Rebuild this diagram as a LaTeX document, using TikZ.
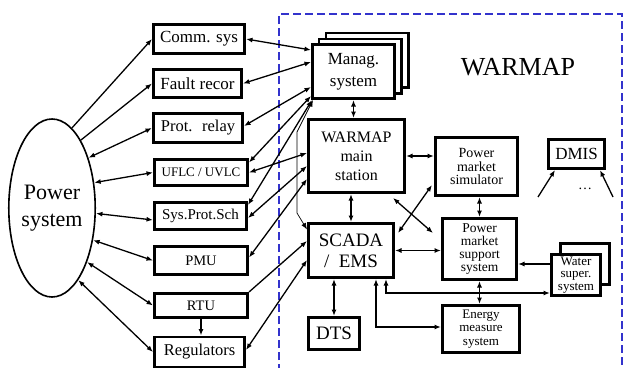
\documentclass[tikz,border=0pt]{standalone}
\usepackage{fontspec}
\setmainfont{Liberation Serif}
\usepackage{tikz}
\usetikzlibrary{calc, positioning, shapes.geometric, arrows.meta}
\definecolor{warblue}{RGB}{51,51,204}
\newcommand{\sz}[2]{\fontsize{#1}{#2}\selectfont}

\begin{document}
\begin{tikzpicture}[x=1pt, y=-1pt, >={Latex[length=6.5pt,width=5pt]},
    blk/.style={draw, line width=2.7pt, fill=white, inner sep=0pt, align=center},
    link/.style={line width=1.3pt},
    thinlink/.style={line width=0.7pt}]
    \useasboundingbox (0,0) rectangle (624,367);

    % WARMAP area
    \draw[warblue, line width=2.4pt, dash pattern=on 8pt off 4pt] (279,372) -- (279,14) -- (622,14) -- (622,372);
    \node[font=\sz{26}{30}] (title) at (518,67) {WARMAP};

    % power system and field devices
    \node[ellipse, draw, line width=1.6pt, minimum width=76pt, minimum height=178pt, inner sep=0pt, align=center, font=\sz{22}{27}] (ps) at (52,208) {Power\\system};
    \node[blk, minimum width=91.3pt, minimum height=29.3pt, font=\sz{17}{20}] (comm) at (199,39) {Comm. sys};
    \node[blk, minimum width=88.3pt, minimum height=28.3pt, font=\sz{17}{20}] (fault) at (197.5,83.5) {Fault recor};
    \node[blk, minimum width=89.3pt, minimum height=29.3pt, font=\sz{16.5}{20}] (prot) at (198,128) {Prot.~ relay};
    \node[blk, minimum width=93.3pt, minimum height=26.3pt, font=\sz{13}{16}] (uflc) at (201,172.5) {UFLC / UVLC};
    \node[blk, minimum width=92.3pt, minimum height=27.3pt, font=\sz{15}{18}] (sps) at (200.5,216) {Sys.Prot.Sch};
    \node[blk, minimum width=93.3pt, minimum height=28.3pt, font=\sz{14.5}{18}] (pmu) at (201,260.5) {PMU};
    \node[blk, minimum width=93.3pt, minimum height=24.3pt, font=\sz{14.5}{18}] (rtu) at (201,305.5) {RTU};
    \node[blk, minimum width=90.3pt, minimum height=30.3pt, font=\sz{16.5}{20}] (reg) at (199.5,352) {Regulators};

    % WARMAP blocks
    \node[blk, minimum width=82.3pt, minimum height=54.3pt] (manag3) at (367,60) {};
    \node[blk, minimum width=82.3pt, minimum height=54.3pt] (manag2) at (360,66) {};
    \node[blk, minimum width=82.3pt, minimum height=54.3pt, font=\sz{17}{22}] (manag) at (353.5,71.5) {Manag.\\system};
    \node[blk, minimum width=96.3pt, minimum height=73.3pt, font=\sz{16}{19}] (wms) at (356.5,156) {WARMAP\\main\\station};
    \node[blk, minimum width=82.3pt, minimum height=58.3pt, font=\sz{14}{13.5}] (pmsim) at (476.5,166.5) {Power\\market\\simulator};
    \node[blk, minimum width=56.3pt, minimum height=29.3pt, font=\sz{17}{20}] (dmis) at (576.5,154) {DMIS};
    \node[font=\sz{14}{16}] (dots) at (585,189) {\dots};
    \node[blk, minimum width=85.3pt, minimum height=54.3pt, font=\sz{19}{21}] (scada) at (351,250.5) {SCADA\\/~ EMS};
    \node[blk, minimum width=51.3pt, minimum height=32.3pt, font=\sz{19}{22}] (dts) at (334,333.5) {DTS};
    \node[blk, minimum width=74.3pt, minimum height=61.3pt, font=\sz{13.5}{13}] (pmss) at (479.5,249) {Power\\market\\support\\system};
    \node[blk, minimum width=49.3pt, minimum height=41.3pt] (water2) at (585,264) {};
    \node[blk, minimum width=49.3pt, minimum height=41.3pt, font=\sz{13}{12.5}] (water) at (576,275) {Water\\super.\\system};
    \node[blk, minimum width=77.3pt, minimum height=47.3pt, font=\sz{13}{13.5}] (energy) at (481,329) {Energy\\measure\\system};

    % power system links
    \draw[link, ->] (ps.76) -- (comm.west);
    \draw[link, ->] (ps.67) -- (fault.west);
    \draw[link, <->] (ps.54) -- (prot.west);
    \draw[link, <->] (ps.31) -- (uflc.west);
    \draw[link, <->] (ps.-7) -- ($(sps.west)+(0,4)$);
    \draw[link, <->] (ps.-38) -- (pmu.west);
    \draw[link, <->] (ps.-57) -- (rtu.west);
    \draw[link, <->] (ps.-70) -- (reg.west);
    \draw[link, ->] (rtu.south) -- (rtu.south |- reg.north);

    % devices to WARMAP
    \draw[link, <->] (comm.east) -- ($(manag.west)+(0,-21.5)$);
    \draw[link, <->] (fault.east) -- ($(manag.west)+(0,-9.5)$);
    \draw[link, <->] ($(prot.east)+(0,-2)$) -- ($(manag.west)+(0,15.5)$);
    \draw[link, <->] ($(uflc.east)+(0,-10)$) -- ($(manag.south west)+(0,-4)$);
    \draw[link, <->] ($(sps.east)+(0,-11)$) -- ($(manag.south west)+(1,0)$);
    \draw[link, <->] (uflc.east) -- ($(wms.west)+(0,-3)$);
    \draw[link, <->] ($(sps.east)+(0,2)$) -- ($(wms.west)+(0,10)$);
    \draw[link, <->] ($(pmu.east)+(0,-3)$) -- ($(wms.west)+(0,23)$);
    \draw[link, ->] (rtu.north east) -- ($(scada.west)+(0,-9.5)$);
    \draw[link, <->] ($(reg.east)+(0,-2)$) -- ($(scada.west)+(0,9.5)$);
    \draw[thinlink, <->] ($(manag.south west)+(2,0)$) -- ++(-16,32) -- ++(0,81) -- ($(scada.west)+(0,-21)$);

    % inside WARMAP
    \draw[link, <->] (manag.south) -- (manag.south |- wms.north);
    \draw[link, <->] (scada.north |- wms.south) -- (scada.north);
    \draw[link, <->] (wms.east) -- (wms.east -| pmsim.west);
    \draw[link, <->] ($(wms.south east)+(-13,4)$) -- ($(pmss.west)+(-8,-16)$);
    \draw[link, <->] ($(scada.north east)+(3,11)$) -- ($(pmsim.south west)+(-2,-12)$);
    \draw[link, <->] (scada.east) -- (scada.east -| pmss.west);
    \draw[link, <->] (pmss.north |- pmsim.south) -- (pmss.north);
    \draw[link, <->] (pmss.south) -- (pmss.south |- energy.north);
    \draw[link, ->] ($(water.west)+(0,-11)$) -- ($(pmss.east)+(0,15)$);
    \draw[link, <->] ($(scada.south)+(35,0)$) |- ($(water.west)+(0,18)$);
    \draw[link, <->] ($(scada.south)+(25,0)$) |- ($(energy.west)+(0,-2)$);
    \draw[link, <->] (dts.north |- scada.south) -- (dts.north);
    \coordinate (dmisl) at (538,197);
    \coordinate (dmisr) at (613,197);
    \draw[link, ->] (dmisl) -- ($(dmis.south west)+(8,0)$);
    \draw[link, ->] (dmisr) -- ($(dmis.south east)+(-6,0)$);
\end{tikzpicture}
\end{document}
